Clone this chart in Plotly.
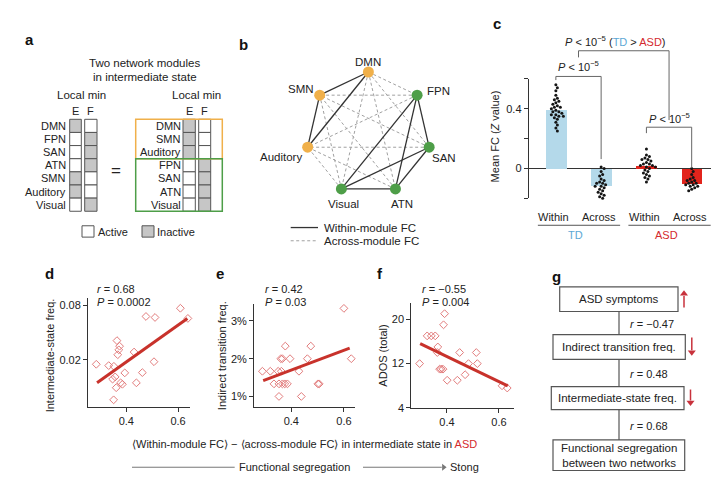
import math
import numpy as np
import plotly.graph_objects as go

W, H = 720, 484
FONT = "Liberation Sans, Arial, Helvetica, sans-serif"
INK = "#222222"
AX = "#333333"
BLUE_BAR = "#B4D9EA"
RED_BAR = "#E2241C"
TD_TXT = "#5DA8D5"
ASD_TXT = "#D42A2E"
PINK = "#E27C7C"
FIT = "#C8322B"
ORANGE = "#F0B04A"
GREEN = "#4E9E48"

# ---------------- data ----------------
# panel a: activity pattern of the two local minima (1 = active, 0 = inactive)
networks = ["DMN", "FPN", "SAN", "ATN", "SMN", "Auditory", "Visual"]
active_E = [0, 1, 1, 1, 0, 0, 1]
active_F = [1, 0, 0, 0, 1, 1, 0]
module_orange = ["DMN", "SMN", "Auditory"]
module_green = ["FPN", "SAN", "ATN", "Visual"]

# panel b: node order around the ring, clockwise from top
ring_order = ["DMN", "FPN", "SAN", "ATN", "Visual", "Auditory", "SMN"]

# panel c
c_labels = ["Within", "Across", "Within", "Across"]
c_groups = ["TD", "ASD"]
c_means = [0.39, -0.117, 0.015, -0.105]
c_ticks_major = [0, 0.4]
c_ticks_minor = [-0.2, 0.2, 0.6]
td_within = [0.56, 0.54, 0.52, 0.49, 0.47, 0.46, 0.45, 0.44, 0.43, 0.42, 0.41, 0.41,
             0.40, 0.39, 0.38, 0.38, 0.37, 0.36, 0.36, 0.35, 0.35, 0.34, 0.33, 0.31,
             0.29, 0.27, 0.25]
td_across = [0.01, 0.00, -0.02, -0.04, -0.05, -0.07, -0.08, -0.09, -0.10, -0.10, -0.11,
             -0.12, -0.12, -0.13, -0.14, -0.15, -0.16, -0.17, -0.18, -0.19, -0.20, -0.21,
             -0.22, -0.24, -0.25]
asd_within = [0.13, 0.09, 0.08, 0.07, 0.06, 0.06, 0.05, 0.04, 0.03, 0.03, 0.02, 0.02,
              0.01, 0.01, 0.00, -0.01, -0.02, -0.03, -0.04, -0.05, -0.06, -0.07, -0.09]
asd_across = [0.00, -0.02, -0.04, -0.06, -0.07, -0.08, -0.08, -0.09, -0.10, -0.10, -0.11,
              -0.11, -0.12, -0.12, -0.13, -0.14, -0.15, -0.26]

# panel d
d_x = [0.284, 0.332, 0.352, 0.364, 0.374, 0.371, 0.367, 0.430, 0.394, 0.357, 0.347,
       0.378, 0.385, 0.361, 0.351, 0.439, 0.462, 0.507, 0.476, 0.511, 0.609, 0.638]
d_y = [0.0178, 0.0172, 0.0169, 0.0325, 0.0282, 0.0257, 0.0227, 0.0243, 0.0143, 0.0129,
       0.0122, 0.0111, 0.0107, 0.0098, 0.0072, 0.0111, 0.0144, 0.0190, 0.0601, 0.0586,
       0.0741, 0.0572]
d_fit_x = [0.287, 0.636]
d_fit_y = [0.0111, 0.0572]

# panel e (percent)
e_x = [0.290, 0.320, 0.350, 0.334, 0.353, 0.366, 0.375, 0.385, 0.353, 0.360, 0.366,
       0.377, 0.395, 0.362, 0.429, 0.438, 0.461, 0.474, 0.501, 0.506, 0.600, 0.628]
e_y = [1.667, 1.667, 1.667, 1.333, 1.333, 1.333, 1.333, 1.333, 1.0, 2.0, 2.0,
       2.333, 2.0, 1.667, 1.667, 1.0, 2.0, 2.333, 1.333, 1.333, 3.333, 2.0]
e_fit_x = [0.293, 0.622]
e_fit_y = [1.418, 2.279]
e_ticks = [1, 2, 3]

# panel f
f_x = [0.295, 0.324, 0.340, 0.355, 0.391, 0.387, 0.365, 0.363, 0.372, 0.378, 0.385,
       0.401, 0.440, 0.449, 0.470, 0.483, 0.513, 0.517, 0.612, 0.632]
f_y = [12, 17, 17, 17, 21, 19, 15, 14, 11, 11, 11, 9, 9, 14, 10, 12, 14, 12, 8, 7.6]
f_fit_x = [0.297, 0.634]
f_fit_y = [15.6, 8.0]

# panel g
g_boxes = ["ASD symptoms", "Indirect transition freq.", "Intermediate-state freq.",
           "Functional segregation<br>between two networks"]
g_r = ["\u22120.47", "0.48", "0.68"]
g_dir = ["up", "down", "down", None]

# ---------------- helpers ----------------
annotations = []
shapes = []


def text(x, y, s, size=11, xanchor="center", color=INK, angle=0):
    annotations.append(dict(x=x / W, y=1 - y / H, xref="paper", yref="paper", text=s,
                            showarrow=False, xanchor=xanchor, yanchor="middle",
                            textangle=angle, borderpad=0,
                            font=dict(size=size, color=color, family=FONT)))


def pline(x0, y0, x1, y1, color=AX, width=1, dash=None):
    ln = dict(color=color, width=width)
    if dash:
        ln["dash"] = dash
    shapes.append(dict(type="line", xref="paper", yref="paper", x0=x0 / W, y0=1 - y0 / H,
                       x1=x1 / W, y1=1 - y1 / H, line=ln))


def prect(x0, y0, x1, y1, color=AX, width=1, fill="rgba(0,0,0,0)"):
    shapes.append(dict(type="rect", xref="paper", yref="paper", x0=x0 / W, y0=1 - y0 / H,
                       x1=x1 / W, y1=1 - y1 / H, line=dict(color=color, width=width),
                       fillcolor=fill))


def crect(x0, y0, x1, y1, color="#555555", width=1, fill="white"):
    # rectangle on the full-figure canvas axis (pixel units)
    shapes.append(dict(type="rect", xref="x5", yref="y5", x0=x0, y0=y0, x1=x1, y1=y1,
                       line=dict(color=color, width=width), fillcolor=fill))


arrow_traces = []


def arrow(x0, y0, x1, y1, color, width=1.5, head=7):
    # shaft from (x0,y0) to (x1,y1) on the canvas, triangle head at (x1,y1)
    L = math.hypot(x1 - x0, y1 - y0)
    ux, uy = (x1 - x0) / L, (y1 - y0) / L
    hx, hy = x1 - ux * head * 0.45, y1 - uy * head * 0.45
    if abs(ux) > abs(uy):
        sym = "triangle-right" if ux > 0 else "triangle-left"
    else:
        sym = "triangle-down" if uy > 0 else "triangle-up"
    arrow_traces.append(go.Scatter(x=[x0, hx - ux * head * 0.3], y=[y0, hy - uy * head * 0.3],
                                   mode="lines", xaxis="x5", yaxis="y5",
                                   line=dict(color=color, width=width),
                                   hoverinfo="skip", showlegend=False))
    arrow_traces.append(go.Scatter(x=[hx], y=[hy], mode="markers", xaxis="x5", yaxis="y5",
                                   marker=dict(symbol=sym, size=head, color=color,
                                               line=dict(width=0)),
                                   hoverinfo="skip", showlegend=False))


fig = go.Figure()

# ================= panel a =================
text(21, 32, "<b>a</b>", size=15, color="#111")
text(136.7, 56, "Two network modules", size=11.5)
text(136.7, 69.5, "in intermediate state", size=11.5)
row_h, top = 13.3, 112.7
GRAY = "#C6C6C6"
state = {"E": dict(zip(networks, active_E)), "F": dict(zip(networks, active_F))}
left_cols = {"E": (61.7, 73.3), "F": (76.7, 89.0)}
right_cols = {"E": (175.0, 187.3), "F": (190.7, 202.7)}
right_order = module_orange + module_green

text(73, 88.5, "Local min", size=11.5)
text(188.5, 88.5, "Local min", size=11.5)
for cols, order, lab_x in [(left_cols, networks, 58.5), (right_cols, right_order, 173.5)]:
    for cname, (x0, x1) in cols.items():
        text((x0 + x1) / 2, 104.3, cname)
        for i, n in enumerate(order):
            crect(x0, top + i * row_h, x1, top + (i + 1) * row_h,
                  fill="white" if state[cname][n] else GRAY)
    for i, n in enumerate(order):
        text(lab_x, top + (i + 0.5) * row_h, n, xanchor="right")
text(108, 164.5, "=", size=17)
crect(127.7, top, 214.3, top + len(module_orange) * row_h, color=ORANGE, width=1.5,
      fill="rgba(0,0,0,0)")
crect(127.7, top + len(module_orange) * row_h, 214.3, top + len(networks) * row_h,
      color=GREEN, width=1.5, fill="rgba(0,0,0,0)")
crect(74, 220.5, 86, 232)
text(89, 226.5, "Active", xanchor="left")
crect(134, 220.5, 146, 232, fill=GRAY)
text(148, 226.5, "Inactive", xanchor="left")

# ================= panel b =================
text(235, 37, "<b>b</b>", size=15, color="#111")
cx0, cy0, R = 360.4, 127.1, 62.3
pos = {}
for k, n in enumerate(ring_order):
    a = math.radians(-90 + 360 * k / len(ring_order))
    pos[n] = (cx0 + R * math.cos(a), cy0 + R * math.sin(a))
module_of = {n: "o" for n in module_orange}
module_of.update({n: "g" for n in module_green})
sx, sy, dxs, dys = [], [], [], []
for i in range(len(ring_order)):
    for j in range(i + 1, len(ring_order)):
        a, b = ring_order[i], ring_order[j]
        if module_of[a] == module_of[b]:
            sx += [pos[a][0], pos[b][0], None]
            sy += [pos[a][1], pos[b][1], None]
        else:
            dxs += [pos[a][0], pos[b][0], None]
            dys += [pos[a][1], pos[b][1], None]
fig.add_trace(go.Scatter(x=dxs, y=dys, mode="lines", xaxis="x5", yaxis="y5",
                         line=dict(color="#A0A0A0", width=1, dash="3px,2.5px"),
                         hoverinfo="skip", showlegend=False))
fig.add_trace(go.Scatter(x=sx, y=sy, mode="lines", xaxis="x5", yaxis="y5",
                         line=dict(color="#333333", width=1.3),
                         hoverinfo="skip", showlegend=False))
fig.add_trace(go.Scatter(x=[pos[n][0] for n in ring_order], y=[pos[n][1] for n in ring_order],
                         mode="markers", xaxis="x5", yaxis="y5",
                         marker=dict(size=11, line=dict(width=0),
                                     color=[ORANGE if module_of[n] == "o" else GREEN
                                            for n in ring_order]),
                         hoverinfo="skip", showlegend=False))
label_off = {"DMN": (0, -10.5, "center"), "FPN": (9, -4.5, "left"), "SAN": (2, 11, "left"),
             "ATN": (6.5, 15, "center"), "Visual": (2.5, 15, "center"),
             "Auditory": (-5, 9.5, "right"), "SMN": (-5, -6, "right")}
for n in ring_order:
    ox, oy, anc = label_off[n]
    text(pos[n][0] + ox, pos[n][1] + oy, n, size=11.5, xanchor=anc)
pline(282.7, 222.3, 310, 222.3, color="#333333", width=1.3)
pline(282.7, 235.7, 310, 235.7, color="#A0A0A0", width=1, dash="3px,2.5px")
text(315, 222.3, "Within-module FC", size=11.5, xanchor="left")
text(315, 235.7, "Across-module FC", size=11.5, xanchor="left")

# ================= panel c =================
text(489, 16, "<b>c</b>", size=15, color="#111")
C_X0, C_X1, C_Y0, C_Y1 = 520.7, 702.7, 71.7, 192.7
C_XR, C_YR = (-0.6, 3.42), (-0.2, 0.6)
xppu = (C_X1 - C_X0) / (C_XR[1] - C_XR[0])
yppu = (C_Y1 - C_Y0) / (C_YR[1] - C_YR[0])


def cxp(v):
    return C_X0 + (v - C_XR[0]) * xppu


def swarm(vals, d=3.3):
    vals = np.asarray(vals, float)
    order = np.argsort(-vals, kind="stable")
    placed = []
    offs = np.zeros(len(vals))
    cands = [0.0]
    for m in range(1, 40):
        cands += [m * 0.5, -m * 0.5]
    for i in order:
        y = vals[i] * yppu
        for c in cands:
            if all((c - p[0]) ** 2 + (y - p[1]) ** 2 >= d * d for p in placed):
                break
        placed.append((c, y))
        offs[i] = c / xppu
    return offs


c_pos = list(range(len(c_labels)))
fig.add_trace(go.Bar(x=c_pos, y=c_means, width=0.46, xaxis="x", yaxis="y",
                     marker=dict(color=[BLUE_BAR, BLUE_BAR, RED_BAR, RED_BAR], line=dict(width=0)),
                     hoverinfo="skip", showlegend=False))
for i, vals in enumerate([td_within, td_across, asd_within, asd_across]):
    offs = swarm(vals)
    fig.add_trace(go.Scatter(x=[c_pos[i] + o for o in offs], y=vals, mode="markers",
                             xaxis="x", yaxis="y", cliponaxis=False,
                             marker=dict(size=3.0, color="#151515", line=dict(width=0)),
                             hoverinfo="skip", showlegend=False))
for i, lab in enumerate(c_labels):
    text(cxp(c_pos[i]) - 2, 212, lab)
for g, (i0, i1), col in [(c_groups[0], (0, 1), TD_TXT), (c_groups[1], (2, 3), ASD_TXT)]:
    pline(cxp(c_pos[i0]) - 18, 220, cxp(c_pos[i1]) + 19, 220, color="#555555", width=1)
    text((cxp(c_pos[i0]) + cxp(c_pos[i1])) / 2 - 3, 229.5, g, color=col)
text(487, 130, "Mean FC (<i>Z</i> value)", angle=-90)
# significance brackets
PTXT = "<i>P</i> < 10<sup>\u22125</sup>"
BR = "#666666"
xa, xb = cxp(c_pos[0]), cxp(c_pos[1])
pline(xa, 69.3, xb, 69.3, BR)
pline(xa, 69.3, xa, 73, BR)
pline(xb, 69.3, xb, 153, BR)
text((xa + xb) / 2, 59, PTXT)
xc, xd = cxp(c_pos[2]), cxp(c_pos[3])
pline(xc, 120.7, xd, 120.7, BR)
pline(xc, 120.7, xc, 126.7, BR)
pline(xd, 120.7, xd, 162, BR)
text((xc + xd) / 2, 111, PTXT)
xm1, xm2 = (xa + xb) / 2, (xc + xd) / 2
pline(xm1, 43.3, xm2, 43.3, BR)
pline(xm1, 43.3, xm1, 50, BR)
pline(xm2, 43.3, xm2, 113.5, BR)
text(607.5, 33,
     PTXT + " (<span style='color:%s'>TD</span> > <span style='color:%s'>ASD</span>)"
     % (TD_TXT, ASD_TXT))

# ================= panels d, e, f =================
for xs, ys, fx, fy, xa_, ya_ in [(d_x, d_y, d_fit_x, d_fit_y, "x2", "y2"),
                                  (e_x, e_y, e_fit_x, e_fit_y, "x3", "y3"),
                                  (f_x, f_y, f_fit_x, f_fit_y, "x4", "y4")]:
    fig.add_trace(go.Scatter(x=xs, y=ys, mode="markers", xaxis=xa_, yaxis=ya_, cliponaxis=False,
                             marker=dict(symbol="diamond-open", size=6, color=PINK,
                                         line=dict(width=1, color=PINK)),
                             hoverinfo="skip", showlegend=False))
    fig.add_trace(go.Scatter(x=fx, y=fy, mode="lines", xaxis=xa_, yaxis=ya_, cliponaxis=False,
                             line=dict(color=FIT, width=3), hoverinfo="skip", showlegend=False))

text(41.7, 268.5, "<b>d</b>", size=15, color="#111")
text(211.7, 268.5, "<b>e</b>", size=15, color="#111")
text(371.7, 268.5, "<b>f</b>", size=15, color="#111")
text(88.3, 284.3, "<i>r</i> = 0.68", xanchor="left")
text(88.3, 297.7, "<i>P</i> = 0.0002", xanchor="left")
text(256, 284.3, "<i>r</i> = 0.42", xanchor="left")
text(256, 297.7, "<i>P</i> = 0.03", xanchor="left")
text(412.7, 284.3, "<i>r</i> = \u22120.55", xanchor="left")
text(412.7, 297.7, "<i>P</i> = 0.004", xanchor="left")
text(41.7, 352, "Intermediate-state freq.", angle=-90)
text(213.5, 352, "Indirect transition freq.", angle=-90)
text(375, 352, "ADOS (total)", angle=-90)

text(296, 441.7, "\u27e8Within-module FC\u27e9 \u2212 \u27e8across-module FC\u27e9 in intermediate state in "
     "<span style='color:%s'>ASD</span>" % ASD_TXT)
pline(124, 465, 226.7, 465, color="#777777", width=1)
text(286.7, 465, "Functional segregation")
arrow(355, 465, 438.3, 465, "#777777", width=1, head=6)
text(441, 465, "Stong", xanchor="left")

# ================= panel g =================
text(548.3, 271.7, "<b>g</b>", size=15, color="#111")
boxes_px = [(551.7, 282.3, 670, 307.3), (545, 330.7, 677.3, 355.7),
            (543.3, 383.3, 676, 406.7), (545, 437.3, 676.7, 468.3)]
for k, (bx0, by0, bx1, by1) in enumerate(boxes_px):
    prect(bx0, by0, bx1, by1, color="#555555", width=1.2, fill="white")
    text((bx0 + bx1) / 2, (by0 + by1) / 2, g_boxes[k], size=11.5)
    if g_dir[k] == "up":
        arrow(bx1 + 6, by1 - 4, bx1 + 6, by0 + 4, "#C8323C", width=1.5, head=7)
    elif g_dir[k] == "down":
        arrow(bx1 + 6.5, by0 + 3, bx1 + 6.5, by1 - 4, "#C8323C", width=1.5, head=7)
for k in range(len(boxes_px) - 1):
    y_a, y_b = boxes_px[k][3], boxes_px[k + 1][1]
    pline(611, y_a, 611, y_b, color="#555555", width=1.2)
    text(620.7, (y_a + y_b) / 2 + 1, "<i>r</i> = " + g_r[k], xanchor="left")

for tr in arrow_traces:
    fig.add_trace(tr)

# ---------------- layout ----------------
tickf = dict(size=11, color=INK, family=FONT)


def data_axis(dom, **kw):
    base = dict(domain=dom, showline=True, linecolor=AX, linewidth=1, ticks="outside",
                ticklen=4, tickcolor=AX, tickwidth=1, showgrid=False, zeroline=False,
                tickfont=tickf, fixedrange=True)
    base.update(kw)
    return base


def dx(a, b):
    return [a / W, b / W]


def dy(top_px, bot_px):
    return [1 - bot_px / H, 1 - top_px / H]


fig.update_layout(
    width=W, height=H, margin=dict(l=0, r=0, t=0, b=0, pad=0),
    paper_bgcolor="white", plot_bgcolor="rgba(0,0,0,0)",
    font=dict(family=FONT, size=11, color=INK),
    showlegend=False, bargap=0,
    xaxis=dict(domain=dx(C_X0, C_X1), range=list(C_XR), showline=False, showticklabels=False,
               ticks="", showgrid=False, zeroline=False, anchor="y", fixedrange=True),
    yaxis=data_axis(dy(C_Y0, C_Y1), range=list(C_YR), anchor="x",
                    tickvals=c_ticks_major, ticktext=["%g" % t for t in c_ticks_major],
                    minor=dict(tickvals=c_ticks_minor, ticks="outside", ticklen=4,
                               tickcolor=AX, tickwidth=1, showgrid=False),
                    zeroline=True, zerolinecolor=AX, zerolinewidth=1),
    xaxis2=data_axis(dx(80, 181.7), range=[0.252, 0.645], tickvals=[0.4, 0.6], anchor="y2"),
    yaxis2=data_axis(dy(293.3, 404), type="log", range=[math.log10(0.006), math.log10(0.097)],
                     tickvals=[0.02, 0.08], ticktext=["0.02", "0.08"], anchor="x2"),
    xaxis3=data_axis(dx(246, 346.7), range=[0.258, 0.641], tickvals=[0.4, 0.6], anchor="y3"),
    yaxis3=data_axis(dy(299.3, 404), range=[0.72, 3.46], tickvals=e_ticks,
                     ticktext=["%d%%" % t for t in e_ticks], anchor="x3"),
    xaxis4=data_axis(dx(403.3, 506), range=[0.263, 0.658], tickvals=[0.4, 0.6], anchor="y4"),
    yaxis4=data_axis(dy(298.3, 405), range=[4, 23], tickvals=[4, 12, 20], anchor="x4"),
    xaxis5=dict(domain=[0, 1], range=[0, W], visible=False, anchor="y5", fixedrange=True),
    yaxis5=dict(domain=[0, 1], range=[H, 0], visible=False, anchor="x5", fixedrange=True),
    annotations=annotations, shapes=shapes,
)

fig.write_html("out.html")
